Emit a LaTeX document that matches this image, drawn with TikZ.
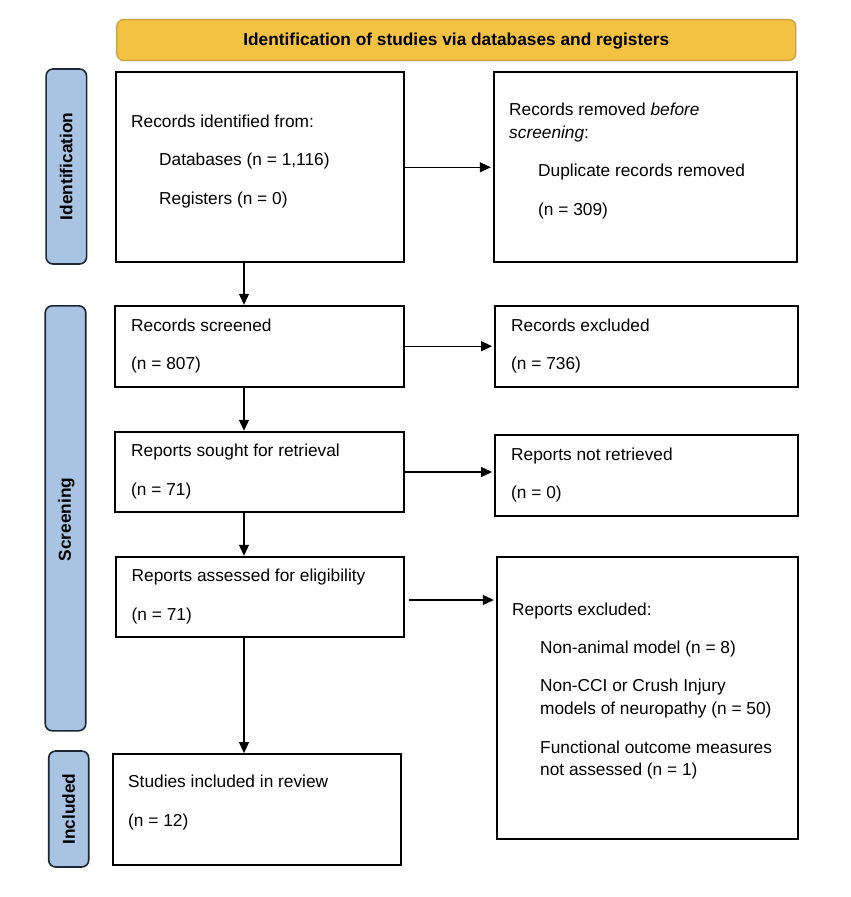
\documentclass[tikz,border=0pt]{standalone}
\usepackage{fontspec}
\setmainfont{Liberation Sans}
\usetikzlibrary{arrows.meta,calc}
\definecolor{hdrfill}{HTML}{F3C143}
\definecolor{hdrdraw}{HTML}{C9A03E}
\definecolor{sidefill}{HTML}{A9C4E3}
\definecolor{sidedraw}{HTML}{1E2733}
\begin{document}
\begin{tikzpicture}[x=1pt,y=-1pt,
  boxnode/.style={draw=black,line width=1.8pt,inner sep=0pt,fill=white},
  hdrnode/.style={draw=hdrdraw,fill=hdrfill,line width=1.3pt,rounded corners=7pt,inner sep=0pt,
    font=\fontsize{17.3}{20}\selectfont\bfseries},
  sidenode/.style={draw=sidedraw,fill=sidefill,line width=1.6pt,rounded corners=7pt,inner sep=0pt},
  sidetxt/.style={rotate=90,inner sep=0pt,font=\fontsize{17.3}{20}\selectfont\bfseries},
  txt/.style={anchor=base west,inner sep=0pt,font=\fontsize{17.3}{20}\selectfont},
  arr/.style={line width=1.1pt,-{Triangle[length=11pt,width=10pt]}}]
\useasboundingbox (0,0) rectangle (851,897);
\fill[white] (0,0) rectangle (851,897);

% header
\node[hdrnode,minimum width=679pt,minimum height=41pt] (hdr) at (456.3,40) {};
\node[inner sep=0pt,font=\fontsize{17.3}{20}\selectfont\bfseries] (hdrt) at (456.3,41) {Identification of studies via databases and registers};

% side labels
\node[sidenode,minimum width=40.5pt,minimum height=195pt] (sid) at (66.3,166.5) {};
\node[sidetxt] (sidt) at (66.3,166.5) {Identification};
\node[sidenode,minimum width=40.5pt,minimum height=425pt] (sscr) at (65.5,518.3) {};
\node[sidetxt] (sscrt) at (66.5,519.5) {Screening};
\node[sidenode,minimum width=40pt,minimum height=116pt] (sinc) at (68.7,809) {};
\node[sidetxt] (sinct) at (68.7,809) {Included};

% boxes
\node[boxnode,minimum width=288pt,minimum height=190pt] (id) at (260,167.3) {};
\node[boxnode,minimum width=303pt,minimum height=190pt] (rem) at (645.2,167) {};
\node[boxnode,minimum width=289pt,minimum height=81pt] (scr) at (259.5,346.2) {};
\node[boxnode,minimum width=302.7pt,minimum height=81pt] (exc) at (646.3,346.2) {};
\node[boxnode,minimum width=289pt,minimum height=80.6pt] (sou) at (259.5,472) {};
\node[boxnode,minimum width=302.7pt,minimum height=80.7pt] (nr) at (646.3,475.3) {};
\node[boxnode,minimum width=288.6pt,minimum height=80.6pt] (ass) at (260,597) {};
\node[boxnode,minimum width=301pt,minimum height=282.6pt] (rex) at (647.2,698) {};
\node[boxnode,minimum width=288.3pt,minimum height=111pt] (inc) at (256.8,809.5) {};

% texts
\node[txt] (t1a) at (131,127) {Records identified from:};
\node[txt] (t1b) at (159,165.5) {Databases (n = 1,116)};
\node[txt] (t1c) at (159,204) {Registers (n = 0)};

\node[txt] (t2a) at (509,115) {Records removed \textit{before}};
\node[txt] (t2b) at (509,138) {\textit{screening}:};
\node[txt] (t2c) at (538,176.7) {Duplicate records removed};
\node[txt] (t2d) at (538,215) {(n = 309)};

\node[txt] (t3a) at (131,331) {Records screened};
\node[txt] (t3b) at (131,369.5) {(n = 807)};

\node[txt] (t4a) at (511,331) {Records excluded};
\node[txt] (t4b) at (511,369.5) {(n = 736)};

\node[txt] (t5a) at (131,456.7) {Reports sought for retrieval};
\node[txt] (t5b) at (131,495.5) {(n = 71)};

\node[txt] (t6a) at (511,460) {Reports not retrieved};
\node[txt] (t6b) at (511,498.5) {(n = 0)};

\node[txt] (t7a) at (131.5,581.7) {Reports assessed for eligibility};
\node[txt] (t7b) at (131.5,620.5) {(n = 71)};

\node[txt] (t8a) at (512,615) {Reports excluded:};
\node[txt] (t8b) at (540,653.3) {Non-animal model (n = 8)};
\node[txt] (t8c) at (540,691.7) {Non-CCI or Crush Injury};
\node[txt] (t8d) at (540,714.3) {models of neuropathy (n = 50)};
\node[txt] (t8e) at (540,753) {Functional outcome measures};
\node[txt] (t8f) at (540,775.7) {not assessed (n = 1)};

\node[txt] (t9a) at (128,787.7) {Studies included in review};
\node[txt] (t9b) at (128,826.5) {(n = 12)};

% connectors
\coordinate (cx) at (244,0);
\draw[arr] (id.south -| cx) -- (scr.north -| cx);
\draw[arr] (scr.south -| cx) -- (sou.north -| cx);
\draw[arr] (sou.south -| cx) -- (ass.north -| cx);
\draw[arr] (ass.south -| cx) -- (inc.north -| cx);
\draw[arr,shorten >=2pt] (id.east) -- (id.east -| rem.west);
\draw[arr,shorten >=2pt] (scr.east) -- (scr.east -| exc.west);
\draw[arr,shorten >=2pt] (sou.east) -- (sou.east -| nr.west);
\draw[arr,shorten <=4pt,shorten >=2pt] ($(ass.east)+(0,3)$) -- ($(ass.east -| rex.west)+(0,3)$);
\end{tikzpicture}
\end{document}
